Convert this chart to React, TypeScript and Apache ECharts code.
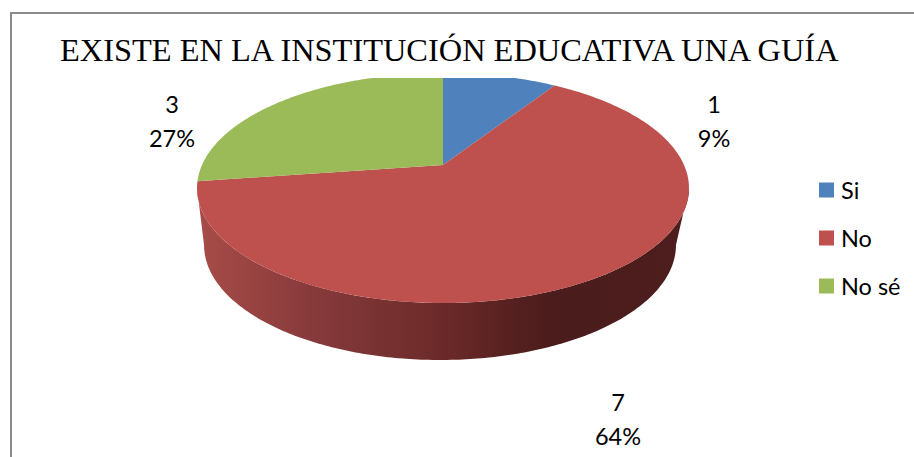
import React, { useEffect, useRef } from "react";
import * as echarts from "echarts";

const titleText = "EXISTE EN LA INSTITUCIÓN EDUCATIVA UNA GUÍA";
const categories = ["Si", "No", "No sé"];
const counts = [1, 7, 3];
const percents = [9, 64, 27];
const colors = ["#4F81BD", "#BE504D", "#9BBB59"];
const labelCentres = [
  [714, 122],
  [618, 420],
  [172, 122],
];

const total = counts.reduce((a, b) => a + b, 0);
const APEX_X = 443;
const APEX_Y = 165;
const A = 241;
const B = 110.4;
const K = 0.2;
const CLIP_Y = 78;
const DEPTH = 57;
const WALL_SCALE = 236 / 246;
const WALL_X = 440;
const VISIBLE_FROM = (Math.acos(-K) * 180) / Math.PI;
const VISIBLE_TO = 360 - VISIBLE_FROM;

function project(deg: number): [number, number] {
  const t = (deg * Math.PI) / 180;
  const u = Math.sin(t);
  const v = Math.cos(t);
  const d = 1 + K * v;
  return [APEX_X + (A * u) / d, APEX_Y - (B * v) / d];
}

function arc(from: number, to: number): [number, number][] {
  const pts: [number, number][] = [];
  const n = Math.max(2, Math.ceil((to - from) / 0.75));
  for (let i = 0; i <= n; i++) pts.push(project(from + ((to - from) * i) / n));
  return pts;
}

export default function App() {
  const ref = useRef<HTMLDivElement>(null);
  useEffect(() => {
    document.body.style.margin = "0";
    const chart = echarts.init(ref.current!, undefined, { renderer: "svg" });
    let cum = 0;
    const series = categories.map((name, i) => {
      const start = (cum / total) * 360;
      cum += counts[i];
      const end = (cum / total) * 360;
      return {
        type: "custom",
        name,
        coordinateSystem: "none",
        itemStyle: { color: colors[i] },
        data: [[counts[i], percents[i]]],
        renderItem: (_: any, api: any) => {
          const children: any[] = [];
          const wFrom = Math.max(start, VISIBLE_FROM);
          const wTo = Math.min(end, VISIBLE_TO);
          if (wTo > wFrom) {
            const front = arc(wFrom, wTo);
            const lower = front
              .map(([x, y]) => [WALL_X + (x - APEX_X) * WALL_SCALE, y + DEPTH])
              .reverse();
            children.push({
              type: "polygon",
              shape: { points: [...front, ...lower] },
              style: {
                fill: new echarts.graphic.LinearGradient(
                  197,
                  0,
                  689,
                  0,
                  [
                    { offset: 0, color: "#A84C48" },
                    { offset: 0.25, color: "#85393A" },
                    { offset: 0.5, color: "#6B2A29" },
                    { offset: 0.72, color: "#4A1C1B" },
                    { offset: 1, color: "#4D1E1D" },
                  ],
                  true
                ),
              },
            });
          }
          const rim = arc(start, end).map(([x, y]) => [x, Math.max(y, CLIP_Y)]);
          children.push({
            type: "polygon",
            shape: { points: [[APEX_X, APEX_Y], ...rim] },
            style: { fill: colors[i] },
          });
          children.push({
            type: "text",
            style: {
              text: `${api.value(0)}\n${api.value(1)}%`,
              x: labelCentres[i][0],
              y: labelCentres[i][1] - 1.5,
              align: "center",
              verticalAlign: "middle",
              fontFamily: "Lato",
              fontSize: 23.5,
              lineHeight: 34,
              fill: "#000",
            },
          });
          return { type: "group", children };
        },
      };
    });
    chart.setOption({
      animation: false,
      backgroundColor: "#fff",
      title: {
        text: titleText,
        left: 55,
        top: 29,
        textStyle: {
          fontFamily: "Liberation Serif",
          fontSize: 32.4,
          fontWeight: "normal",
          color: "#000",
        },
      },
      legend: {
        orient: "vertical",
        left: 814,
        top: 173,
        data: categories,
        icon: "rect",
        itemWidth: 15,
        itemHeight: 15,
        itemGap: 24,
        textStyle: { fontFamily: "Lato", fontSize: 23.5, color: "#000", padding: [0, 0, 0, 2] },
      },
      graphic: [
        {
          type: "polyline",
          shape: { points: [[11, 457], [11, 13], [914, 13]] },
          style: { stroke: "#8A8A8A", lineWidth: 2, fill: "none" },
        },
      ],
      series,
    });
    return () => chart.dispose();
  }, []);
  return <div ref={ref} style={{ width: 914, height: 457 }} />;
}
